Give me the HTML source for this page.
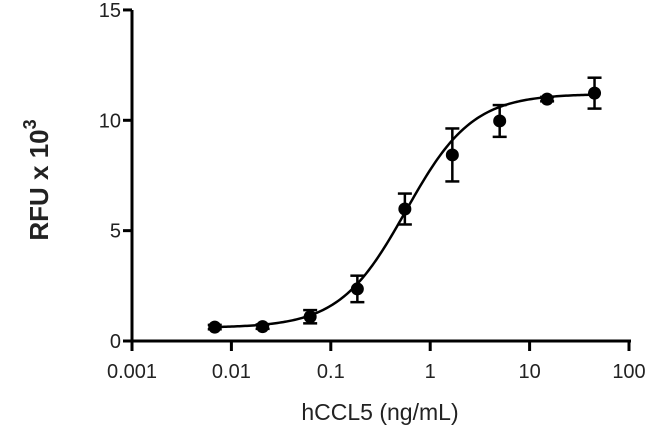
<!DOCTYPE html>
<html><head><meta charset="utf-8"><style>
html,body{margin:0;padding:0;background:#fff;}
svg{display:block;font-family:"Liberation Sans",sans-serif;}
</style></head><body>
<svg id="chart" width="650" height="437">
<g id="axes"></g>
<g id="curve"></g>
<g id="points"></g>
<text x="380" y="420" font-size="23" text-anchor="middle" fill="#222">hCCL5 (ng/mL)</text>
<text transform="translate(48,180) rotate(-90)" font-size="26" font-weight="bold" text-anchor="middle" fill="#222">RFU x 10<tspan dy="-12" font-size="18">3</tspan></text>
</svg>
<script>
const conc = [0.0068, 0.0206, 0.062, 0.185, 0.556, 1.67, 5, 15, 45];
const rfu = [0.63, 0.65, 1.1, 2.36, 5.98, 8.43, 9.97, 10.96, 11.23];
const sd = [0.1, 0.1, 0.3, 0.6, 0.7, 1.2, 0.72, 0.1, 0.7];
const fitParams = [0.6, 11.2, 0.57, 1.3]; // bottom, top, EC50, hill
const xTicks = [0.001, 0.01, 0.1, 1, 10, 100];
const xTickLabels = ["0.001", "0.01", "0.1", "1", "10", "100"];
const yTicks = [0, 5, 10, 15];
const yTickLabels = ["0", "5", "10", "15"];

const NS = "http://www.w3.org/2000/svg";
const X0 = 132, DEC = 99.4, Y0 = 341, YU = 22.07;
const xs = v => X0 + (Math.log10(v) + 3) * DEC;
const ys = v => Y0 - v * YU;
function mk(tag, attrs, parent) {
  const e = document.createElementNS(NS, tag);
  for (const k in attrs) e.setAttribute(k, attrs[k]);
  parent.appendChild(e);
  return e;
}
const axes = document.getElementById('axes');
const ya = mk('line', {x1: X0, y1: ys(15), x2: X0, y2: Y0 + 8, stroke: '#000', 'stroke-width': 3}, axes);


const xa = mk('line', {x1: X0 - 8, y1: Y0, x2: xs(100) + 2, y2: Y0, stroke: '#000', 'stroke-width': 3}, axes);


yTicks.forEach((t, i) => {
  const l = mk('line', {x1: X0 - 9, y1: ys(t), x2: X0, y2: ys(t), stroke: '#000', 'stroke-width': 3}, axes);
  
  
  const tx = mk('text', {x: X0 - 11, y: ys(t) + 7, 'font-size': 20, 'text-anchor': 'end', fill: '#222'}, axes);
  tx.textContent = yTickLabels[i];
  
  
});
xTicks.forEach((t, i) => {
  const l = mk('line', {x1: xs(t), y1: Y0, x2: xs(t), y2: Y0 + 10, stroke: '#000', 'stroke-width': 3}, axes);
  
  
  const tx = mk('text', {x: xs(t), y: Y0 + 37, 'font-size': 20, 'text-anchor': 'middle', fill: '#222'}, axes);
  tx.textContent = xTickLabels[i];
  
  
});
const pBot = fitParams[0], pTop = fitParams[1], pEc = fitParams[2], pHill = fitParams[3];
let d = '';
const lo = Math.log10(conc[0]), hi = Math.log10(conc[conc.length - 1]);
for (let i = 0; i <= 200; i++) {
  const lx = lo + (hi - lo) * i / 200, x = Math.pow(10, lx);
  const y = pBot + (pTop - pBot) / (1 + Math.pow(pEc / x, pHill));
  d += (i ? 'L' : 'M') + xs(x).toFixed(2) + ',' + ys(y).toFixed(2);
}
const cp = mk('path', {d: d, fill: 'none', stroke: '#000', 'stroke-width': 2.5}, document.getElementById('curve'));


const pg = document.getElementById('points');
conc.forEach((c, i) => {
  const cx = xs(c);
  const g = mk('g', {}, pg);
  
  
  const t = ys(rfu[i] + sd[i]), b = ys(rfu[i] - sd[i]);
  mk('line', {x1: cx, y1: t, x2: cx, y2: b, stroke: '#000', 'stroke-width': 2.5}, g);
  mk('line', {x1: cx - 7, y1: t, x2: cx + 7, y2: t, stroke: '#000', 'stroke-width': 2.5}, g);
  mk('line', {x1: cx - 7, y1: b, x2: cx + 7, y2: b, stroke: '#000', 'stroke-width': 2.5}, g);
  mk('circle', {cx: cx, cy: ys(rfu[i]), r: 6.5, fill: '#000'}, g);
});
</script>
</body></html>
